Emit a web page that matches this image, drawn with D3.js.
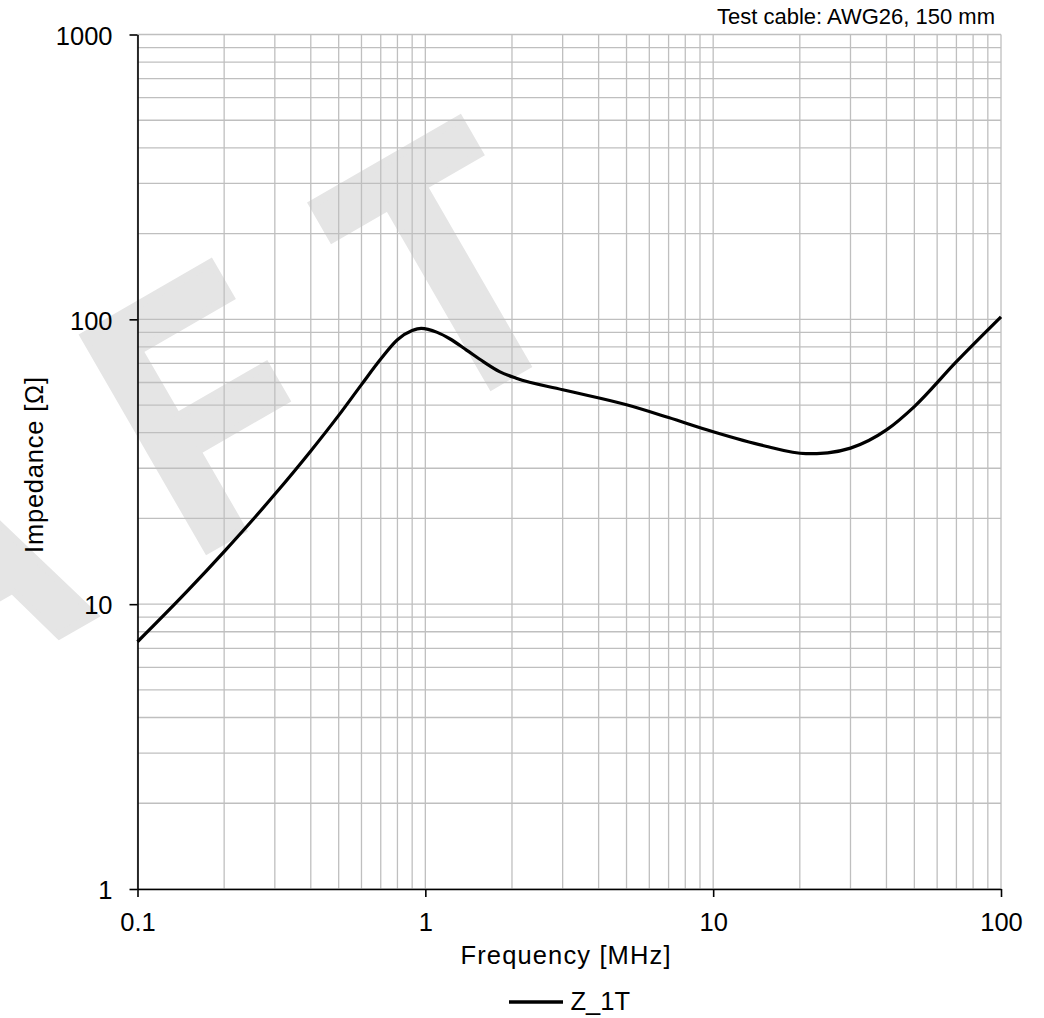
<!DOCTYPE html>
<html>
<head>
<meta charset="utf-8">
<script src="https://cdn.jsdelivr.net/npm/d3@7"></script>
<style>
  html, body { margin: 0; padding: 0; background: #fff; }
  svg { display: block; font-family: "Liberation Sans", Arial, sans-serif; }
</style>
</head>
<body>
<svg id="chart" width="1044" height="1018"></svg>
<script>
// ---- data ----
const freqMHz = [0.1, 0.15, 0.2, 0.3, 0.4, 0.5, 0.6, 0.7, 0.8, 0.9, 0.967, 1.1, 1.22, 1.39, 1.59, 1.81, 2.07, 3, 5, 7, 10, 15, 21, 25, 30, 40, 50, 70, 100];
const impedanceZ1T = [7.38, 11.2, 15.3, 24.3, 34.5, 46.0, 59.0, 72.5, 84.8, 91.3, 93.0, 90.0, 85.3, 78.0, 71.0, 65.5, 62.1, 56.6, 50.1, 45.2, 40.3, 36.0, 33.75, 34.0, 35.3, 40.9, 49.4, 71.0, 102.0];
const xTickValues = [0.1, 1, 10, 100];
const yTickValues = [1, 10, 100, 1000];
const seriesName = "Z_1T";
const xTitle = "Frequency [MHz]";
const yTitle = "Impedance [Ω]";
const noteText = "Test cable: AWG26, 150 mm";
const watermarkText = "DRAFT";

// ---- layout ----
const svg = d3.select("#chart");
const L = 137.5, R = 1001, T = 34.5, B = 889;
const x = d3.scaleLog().domain([0.1, 100]).range([L, R]);
const y = d3.scaleLog().domain([1, 1000]).range([B, T]);
const FONT = 25.5;

// ---- watermark (behind everything) ----
const wmG = svg.append("g");
const WM_FS = 359;
const wmText = wmG.append("text")
  .attr("x", 0).attr("y", 0)
  .attr("font-size", WM_FS)
  .attr("font-weight", "bold")
  .attr("fill", "#e5e5e5")
  .attr("stroke", "#e5e5e5")
  .attr("stroke-width", 8)
  .attr("stroke-linejoin", "miter")
  .text(watermarkText);
(function placeWatermark(){
  const s = 0.81;
  const n = wmText.node();
  const xF0 = n.getStartPositionOfChar(3).x;
  const xT0 = n.getStartPositionOfChar(4).x;
  const ls = 280 / s - (xT0 - xF0);
  wmText.attr("letter-spacing", ls);
  const xF = xF0 + 3 * ls;
  const a = -30 * Math.PI / 180;
  const cx = 190, cy = 560; // where the F's origin should land
  const px = cx - Math.cos(a) * s * xF;
  const py = cy - Math.sin(a) * s * xF;
  wmG.attr("transform", `translate(${px},${py}) rotate(-30) scale(${s},1)`);
})();

// ---- grid ----
const gridX = [], gridY = [];
[0.1, 1, 10].forEach(d => { for (let k = 1; k <= 9; k++) gridX.push(d * k); });
gridX.push(100);
[1, 10, 100].forEach(d => { for (let k = 1; k <= 9; k++) gridY.push(d * k); });
gridY.push(1000);

const grid = svg.append("g").attr("stroke", "#bfbfbf").attr("stroke-width", 1.3);
grid.selectAll("line.v").data(gridX).join("line")
  .attr("x1", d => x(d)).attr("x2", d => x(d))
  .attr("y1", T).attr("y2", B);
grid.selectAll("line.h").data(gridY).join("line")
  .attr("x1", L).attr("x2", R)
  .attr("y1", d => y(d)).attr("y2", d => y(d));

// ---- curve ----
const data = freqMHz.map((f, i) => ({ f, z: impedanceZ1T[i] }));
const line = d3.line().x(d => x(d.f)).y(d => y(d.z)).curve(d3.curveMonotoneX);
svg.append("path").datum(data)
  .attr("fill", "none").attr("stroke", "#000").attr("stroke-width", 3.2)
  .attr("stroke-linejoin", "round")
  .attr("d", line);

// ---- axes ----
const fmt = d => d3.format("~g")(d);
const xAxis = svg.append("g").attr("transform", `translate(0,${B})`)
  .call(d3.axisBottom(x).tickValues(xTickValues).tickFormat(fmt).tickSize(8).tickSizeOuter(0).tickPadding(15.6));
const yAxis = svg.append("g").attr("transform", `translate(${L},0)`)
  .call(d3.axisLeft(y).tickValues(yTickValues).tickFormat(fmt).tickSize(8).tickSizeOuter(0).tickPadding(17));
[xAxis, yAxis].forEach(g => {
  g.select(".domain").attr("stroke", "#000").attr("stroke-width", 1.6);
  g.selectAll(".tick line").attr("stroke", "#000").attr("stroke-width", 1.6);
  g.selectAll(".tick text").attr("font-size", FONT).attr("fill", "#000")
    .attr("font-family", "'Liberation Sans', Arial, sans-serif");
});
yAxis.selectAll(".tick text").attr("dy", "0.38em");

// ---- titles ----
svg.append("text")
  .attr("x", 565.5).attr("y", 964)
  .attr("text-anchor", "middle").attr("font-size", FONT)
  .attr("textLength", 210).attr("lengthAdjust", "spacing")
  .text(xTitle);
svg.append("text")
  .attr("transform", `translate(42.5,465) rotate(-90)`)
  .attr("text-anchor", "middle").attr("font-size", FONT)
  .attr("textLength", 176).attr("lengthAdjust", "spacing")
  .text(yTitle);
svg.append("text")
  .attr("x", 995).attr("y", 24)
  .attr("text-anchor", "end").attr("font-size", 22)
  .text(noteText);

// ---- legend ----
const lg = svg.append("g");
lg.append("line").attr("x1", 509).attr("x2", 563).attr("y1", 1002).attr("y2", 1002)
  .attr("stroke", "#000").attr("stroke-width", 3.5);
lg.append("text").attr("x", 570.5).attr("y", 1010)
  .attr("font-size", FONT).text(seriesName);
</script>
</body>
</html>
